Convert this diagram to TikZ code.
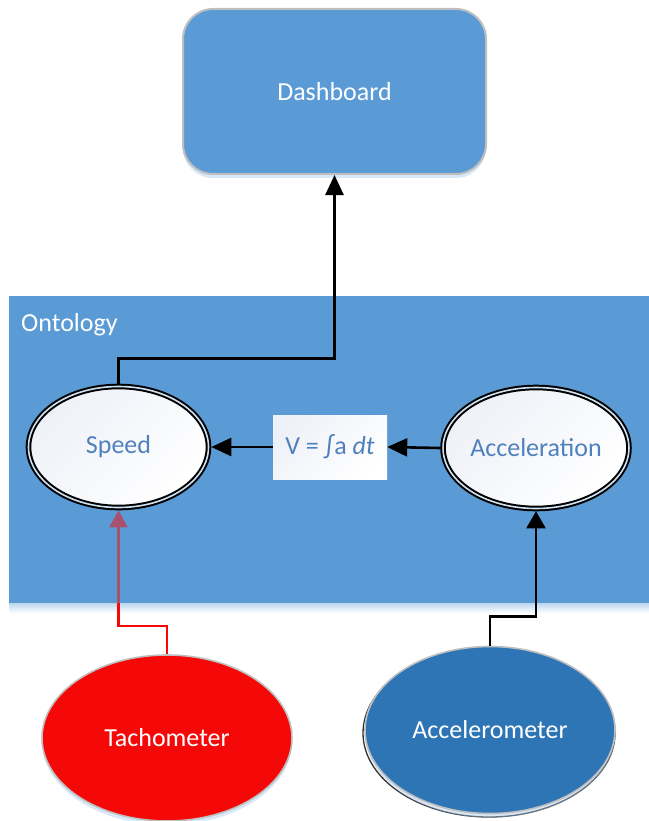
\documentclass[tikz,border=0pt]{standalone}
\usepackage{fontspec}
\setmainfont{Carlito}
\usetikzlibrary{arrows.meta,shapes.geometric,shadows,calc}
\definecolor{obl}{HTML}{5B9BD5}
\definecolor{dbl}{HTML}{2E75B6}
\definecolor{tred}{HTML}{F40808}
\definecolor{txtb}{HTML}{4F81BD}
\definecolor{gbord}{HTML}{BFBFBF}
\definecolor{shad}{HTML}{A9CBEA}
\definecolor{lav}{HTML}{EEF1F8}
\pgfdeclarelayer{bg}
\pgfdeclarelayer{conn}
\pgfdeclarelayer{veil}
\pgfsetlayers{bg,conn,veil,main}
\tikzset{
  txt/.style={font=\fontsize{26}{30}\selectfont},
  softshadow/.style={drop shadow={shadow xshift=0pt, shadow yshift=-4pt, fill=shad, opacity=0.45}},
  dashbox/.style={txt, rectangle, rounded corners=30pt, minimum width=303pt, minimum height=165pt,
    fill=obl, draw=gbord, line width=2pt, text=white, softshadow},
  ontell/.style={txt, ellipse, minimum width=180pt, minimum height=121pt, inner sep=0pt,
    draw=black, line width=2pt, double=white!70!obl, double distance=1.6pt, outer sep=2.8pt,
    top color=lav, bottom color=white, shading angle=45, text=txtb},
  formula/.style={txt, rectangle, minimum width=114pt, minimum height=64pt, inner sep=0pt,
    top color=lav, bottom color=white, shading angle=45, text=txtb},
  sensor/.style={txt, ellipse, inner sep=0pt, draw=gbord, line width=1.6pt, text=white, softshadow},
  connb/.style={draw=black, line width=2.6pt, -{Triangle[width=18pt,length=20pt]}},
  connr/.style={draw=tred, line width=2.2pt, -{Triangle[width=18pt,length=17pt]}},
}
\begin{document}
\begin{tikzpicture}[x=1pt,y=-1pt]
\useasboundingbox (0,0) rectangle (648,821);
\begin{pgfonlayer}{bg}
  \shade[top color=shad!80, bottom color=white] (9,603) rectangle (660,613);
  \fill[obl] (9,296) rectangle (660,603);
\end{pgfonlayer}
\node[dashbox] (dash) at (334.5,91.5) {Dashboard};
\node[txt, text=white, anchor=west, inner sep=0pt] (onto) at (21,325) {Ontology};
\node[ontell] (speed) at (118.5,447) {Speed};
\node[ontell] (acc) at (536,448) {Acceleration};
\node[formula] (int) at (330,447) {V = ∫a \textit{dt}};
\draw[black!80, line width=1.3pt, fill=white] (489,733) ellipse (126pt and 84pt);
\node[sensor, fill=tred, minimum width=250pt, minimum height=166pt] (tach) at (167,738) {Tachometer};
\node[sensor, fill=dbl, minimum width=250pt, minimum height=167pt] (accm) at (490,730) {Accelerometer};
\draw[connb] (speed.north) -- ++(0,-25) -| (dash.south);
\draw[connb] (int.west) -- (speed.east);
\draw[connb] (acc.west) -- (int.east);
\draw[connb, -{Triangle[width=19pt,length=17pt]}] (accm.north) -- ++(0,-29) -| (acc.south);
\begin{pgfonlayer}{conn}
  \draw[connr] (tach.north) -- ++(0,-28) -| (speed.south);
\end{pgfonlayer}
\begin{pgfonlayer}{veil}
  \fill[obl, opacity=0.5] (9,296) rectangle (660,603);
\end{pgfonlayer}
\end{tikzpicture}
\end{document}
